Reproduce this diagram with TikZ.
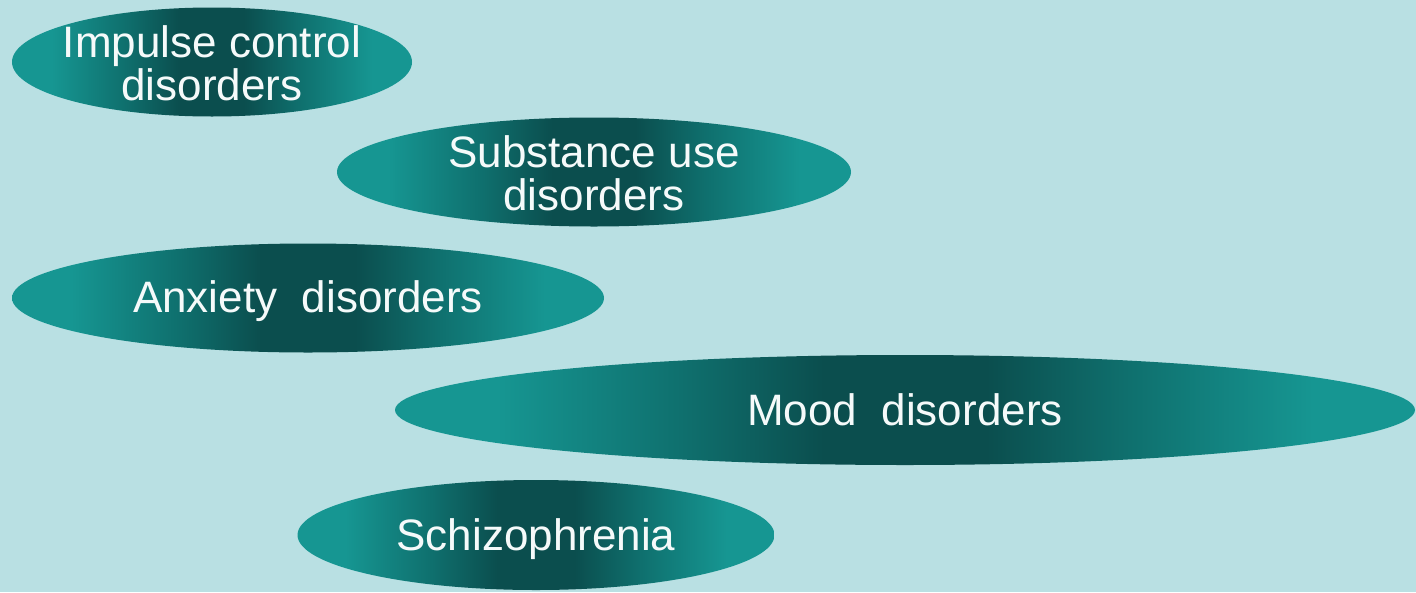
\documentclass[tikz,border=0pt]{standalone}
\usepackage{fontspec}
\setmainfont{Liberation Sans}
\usetikzlibrary{shapes.geometric}
\definecolor{bgcyan}{RGB}{185,224,227}
\definecolor{tealedge}{RGB}{22,150,146}
\definecolor{tealmid}{RGB}{15,112,110}
\definecolor{tealdark}{RGB}{11,78,78}
\definecolor{labeltext}{RGB}{245,250,250}
% teal band, darkest in the middle of the ellipse (the path spans 25bp--75bp)
\pgfdeclarehorizontalshading{tealband}{100bp}{
  color(0bp)=(tealedge); color(25bp)=(tealedge); color(30bp)=(tealedge);
  color(39bp)=(tealmid); color(46bp)=(tealdark); color(54bp)=(tealdark);
  color(61bp)=(tealmid); color(70bp)=(tealedge); color(75bp)=(tealedge);
  color(100bp)=(tealedge)}
\tikzset{
  disorder/.style={ellipse, inner sep=0pt, draw=none, shading=tealband,
    shading angle=0},
  disorderlabel/.style={text=labeltext, align=center, inner sep=0pt,
    font=\fontsize{44}{43}\selectfont}
}
\begin{document}
\begin{tikzpicture}[x=1pt,y=-1pt]
  % background panel
  \fill[bgcyan] (0,0) rectangle (1416,592);
  \useasboundingbox (0,0) rectangle (1416,592);

  \node[disorder, minimum width=400pt, minimum height=109pt] (impulse) at (212,62) {};
  \node[disorder, minimum width=514pt, minimum height=109pt] (substance) at (594,172) {};
  \node[disorder, minimum width=592pt, minimum height=109pt] (anxiety) at (308,298) {};
  \node[disorder, minimum width=1020pt, minimum height=110pt] (mood) at (905,410) {};
  \node[disorder, minimum width=477pt, minimum height=110pt] (schizo) at (536,535) {};

  % labels (yshift is in page units: negative moves down)
  \node[disorderlabel] (impulsetext) at ([yshift=-1pt]impulse.center) {Impulse control\\disorders};
  \node[disorderlabel] (substancetext) at ([yshift=-1pt]substance.center) {Substance use\\disorders};
  \node[disorderlabel] (anxietytext) at ([yshift=-3pt]anxiety.center) {Anxiety\ \ disorders};
  \node[disorderlabel] (moodtext) at (mood.center) {Mood\ \ disorders};
  \node[disorderlabel] (schizotext) at ([yshift=-4pt]schizo.center) {Schizophrenia};
\end{tikzpicture}
\end{document}
